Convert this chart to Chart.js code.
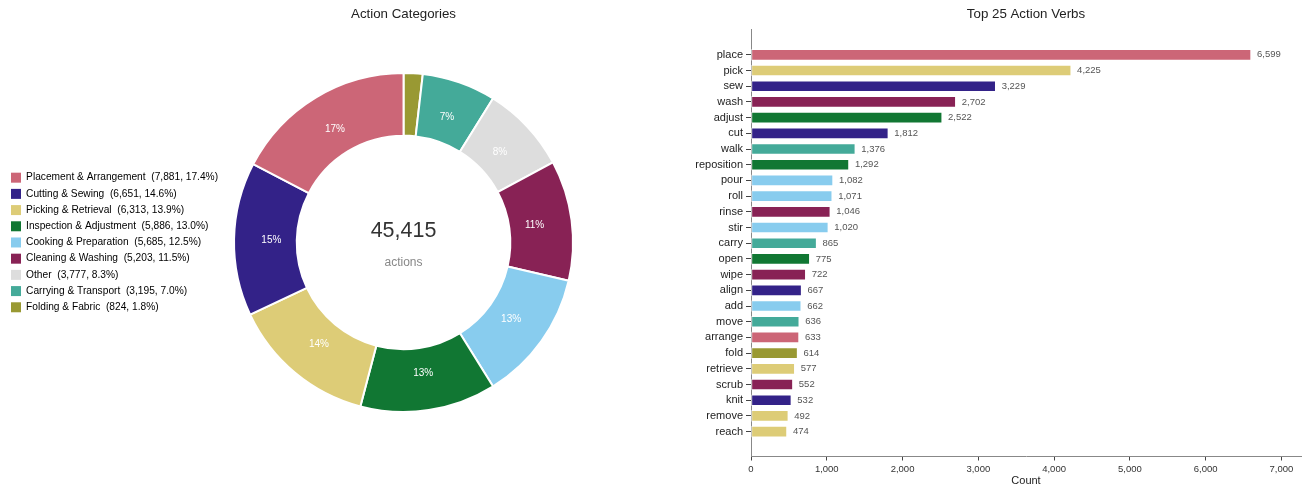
<!DOCTYPE html>
<html>
<head>
<meta charset="utf-8">
<script src="https://cdn.jsdelivr.net/npm/chart.js@4.4.1/dist/chart.umd.min.js"></script>
<style>
  body { margin: 0; background: #fff; }
  #wrap { position: relative; width: 1312px; height: 488px; }
  canvas { position: absolute; top: 0; }
  #categories { left: 0; }
  #verbs { left: 660px; }
</style>
</head>
<body>
<div id="wrap">
  <canvas id="categories" width="660" height="488"></canvas>
  <canvas id="verbs" width="652" height="488"></canvas>
</div>
<script>
const categoryNames = [
  'Placement & Arrangement', 'Cutting & Sewing', 'Picking & Retrieval',
  'Inspection & Adjustment', 'Cooking & Preparation', 'Cleaning & Washing',
  'Other', 'Carrying & Transport', 'Folding & Fabric'
];
const categoryCounts = [7881, 6651, 6313, 5886, 5685, 5203, 3777, 3195, 824];
const categoryColors = [
  '#CC6677', '#332288', '#DDCC77', '#117733', '#88CCEE',
  '#882255', '#DDDDDD', '#44AA99', '#999933'
];

const verbNames = [
  'place', 'pick', 'sew', 'wash', 'adjust', 'cut', 'walk', 'reposition',
  'pour', 'roll', 'rinse', 'stir', 'carry', 'open', 'wipe', 'align', 'add',
  'move', 'arrange', 'fold', 'retrieve', 'scrub', 'knit', 'remove', 'reach'
];
const verbCounts = [
  6599, 4225, 3229, 2702, 2522, 1812, 1376, 1292, 1082, 1071, 1046, 1020,
  865, 775, 722, 667, 662, 636, 633, 614, 577, 552, 532, 492, 474
];
// category index of each verb, for bar colour
const verbCategory = [
  0, 2, 1, 5, 3, 1, 7, 3, 4, 4, 5, 4, 7, 3, 5, 1, 4, 7, 0, 8, 2, 5, 1, 2, 2
];
const countTicks = [0, 1000, 2000, 3000, 4000, 5000, 6000, 7000];

const FONT = '"Liberation Sans", Arial, Helvetica, sans-serif';
Chart.defaults.font.family = FONT;
Chart.defaults.color = '#222';

const fmt = n => n.toLocaleString('en-US');
const total = categoryCounts.reduce((a, b) => a + b, 0);

// ring runs clockwise from 12 o'clock, smallest category first
const ringOrder = categoryNames.map((_, i) => i).reverse();

const sliceLabels = {
  id: 'sliceLabels',
  afterDatasetsDraw(chart) {
    const ctx = chart.ctx;
    const values = chart.data.datasets[0].data;
    ctx.save();
    ctx.font = '10px ' + FONT;
    ctx.fillStyle = '#fff';
    ctx.textAlign = 'center';
    ctx.textBaseline = 'middle';
    chart.getDatasetMeta(0).data.forEach((arc, i) => {
      const pct = values[i] / total * 100;
      if (pct < 3) return;
      const mid = (arc.startAngle + arc.endAngle) / 2;
      const r = arc.outerRadius * 0.78;
      ctx.fillText(Math.round(pct) + '%', arc.x + Math.cos(mid) * r, arc.y + Math.sin(mid) * r);
    });
    ctx.restore();
  }
};

const centerTotal = {
  id: 'centerTotal',
  afterDraw(chart) {
    const arc = chart.getDatasetMeta(0).data[0];
    if (!arc) return;
    const ctx = chart.ctx;
    ctx.save();
    ctx.textAlign = 'center';
    ctx.textBaseline = 'middle';
    ctx.fillStyle = '#333';
    ctx.font = '21.5px ' + FONT;
    ctx.fillText(fmt(total), arc.x, arc.y - 11);
    ctx.fillStyle = '#888';
    ctx.font = '12px ' + FONT;
    ctx.fillText('actions', arc.x, arc.y + 20);
    ctx.restore();
  }
};

new Chart(document.getElementById('categories'), {
  type: 'doughnut',
  data: {
    labels: ringOrder.map(i => categoryNames[i]),
    datasets: [{
      data: ringOrder.map(i => categoryCounts[i]),
      backgroundColor: ringOrder.map(i => categoryColors[i]),
      borderColor: '#fff',
      borderWidth: 2,
      hoverOffset: 0
    }]
  },
  options: {
    responsive: false,
    animation: false,
    cutout: '63%',
    layout: { padding: { left: 5, right: 81, top: 0, bottom: 75 } },
    plugins: {
      title: {
        display: true,
        text: 'Action Categories',
        fullSize: false,
        color: '#222',
        font: { size: 13.3, weight: 'normal' },
        padding: { top: 6, bottom: 50 }
      },
      legend: {
        position: 'left',
        fullSize: false,
        onClick: null,
        labels: {
          boxWidth: 10,
          boxHeight: 10,
          padding: 6,
          color: '#222',
          font: { size: 10.2 },
          generateLabels: () => categoryNames.map((name, i) => ({
            text: `${name}  (${fmt(categoryCounts[i])}, ${(categoryCounts[i] / total * 100).toFixed(1)}%)`,
            fillStyle: categoryColors[i],
            strokeStyle: categoryColors[i],
            lineWidth: 0,
            hidden: false,
            index: ringOrder.indexOf(i)
          }))
        }
      },
      tooltip: { enabled: false }
    }
  },
  plugins: [sliceLabels, centerTotal]
});

const barValues = {
  id: 'barValues',
  afterDatasetsDraw(chart) {
    const ctx = chart.ctx;
    ctx.save();
    ctx.font = '9.5px ' + FONT;
    ctx.fillStyle = '#555';
    ctx.textAlign = 'left';
    ctx.textBaseline = 'middle';
    chart.getDatasetMeta(0).data.forEach((bar, i) => {
      ctx.fillText(fmt(verbCounts[i]), bar.x + 6, bar.y);
    });
    ctx.restore();
  }
};

new Chart(document.getElementById('verbs'), {
  type: 'bar',
  data: {
    datasets: [{
      data: verbCounts.map((v, i) => ({ x: v, y: i })),
      backgroundColor: verbCategory.map(c => categoryColors[c]),
      borderColor: 'rgba(255,255,255,0.7)',
      borderWidth: 1,
      borderSkipped: false,
      barThickness: 11
    }]
  },
  options: {
    indexAxis: 'y',
    responsive: false,
    animation: false,
    layout: { padding: { left: 0, right: 11, top: 0, bottom: 0 } },
    scales: {
      x: {
        type: 'linear',
        min: 0,
        max: Math.max(...verbCounts) * 1.1,
        afterFit(scale) { scale.height = 31.5; },
        afterBuildTicks(scale) { scale.ticks = countTicks.map(v => ({ value: v })); },
        grid: { drawOnChartArea: false, drawTicks: true, tickLength: 4, color: '#444' },
        border: { color: '#888', width: 1 },
        ticks: {
          autoSkip: false,
          maxRotation: 0,
          padding: 3,
          color: '#333',
          font: { size: 9.5 },
          callback: v => fmt(v)
        },
        title: {
          display: true,
          text: 'Count',
          color: '#222',
          font: { size: 11 },
          padding: { top: 2, bottom: 0 }
        }
      },
      y: {
        type: 'linear',
        reverse: true,
        offset: false,
        min: -1.585,
        max: verbNames.length + 0.585,
        afterFit(scale) { scale.width = 91; },
        afterBuildTicks(scale) { scale.ticks = verbNames.map((_, i) => ({ value: i })); },
        grid: { offset: false, drawOnChartArea: false, drawTicks: true, tickLength: 5, color: '#444' },
        border: { color: '#888', width: 1 },
        ticks: {
          autoSkip: false,
          padding: 3,
          color: '#222',
          font: { size: 11 },
          callback: v => verbNames[v]
        }
      }
    },
    plugins: {
      title: {
        display: true,
        text: 'Top 25 Action Verbs',
        fullSize: false,
        color: '#222',
        font: { size: 13.3, weight: 'normal' },
        padding: { top: 6, bottom: 8 }
      },
      legend: { display: false },
      tooltip: { enabled: false }
    }
  },
  plugins: [barValues]
});
</script>
</body>
</html>
